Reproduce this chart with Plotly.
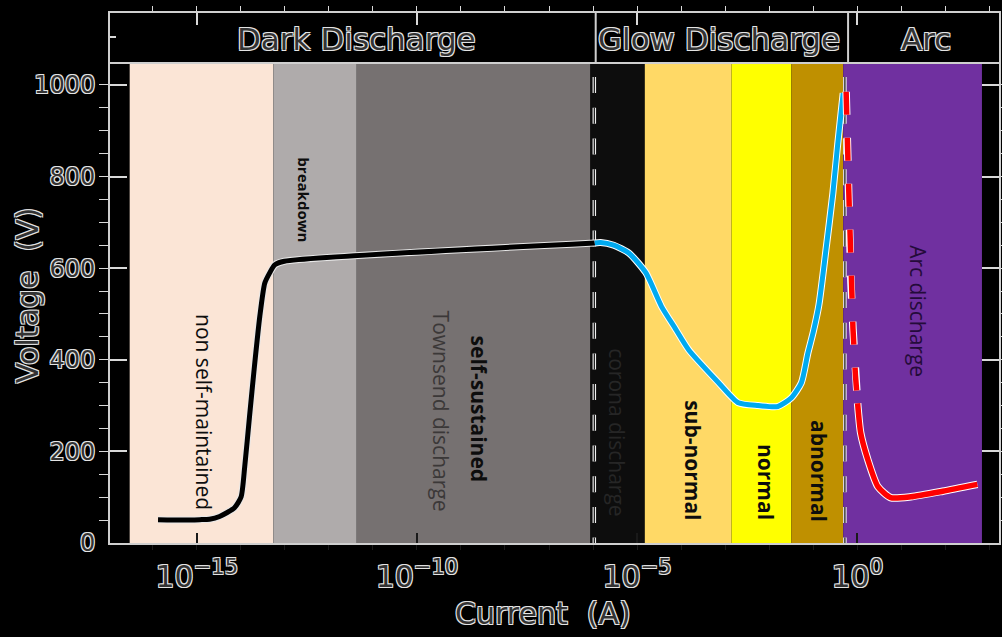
import numpy as np
import plotly.graph_objects as go

# ---------------------------------------------------------------------------
# Discharge regimes: band edges along the current axis (A) and their fills
# ---------------------------------------------------------------------------
band_edges = [3.0e-17, 5.5e-14, 4.3e-12, 8.7e-7, 1.5e-5, 1.4e-3, 3.2e-2, 0.48, 680.0]
band_colors = ["#fbe5d6", "#afabab", "#767171", "#0d0d0d",
               "#ffd966", "#ffff00", "#bf9000", "#7030a0"]

# dashed separators between dark / glow and glow / arc
separator_current = [1.07e-6, 0.525]

# ---------------------------------------------------------------------------
# Voltage-current characteristic
# ---------------------------------------------------------------------------
dark_current = [1.32e-16, 5.0e-16, 1.17e-15, 1.95e-15, 3.3e-15, 7.2e-15, 1.02e-14,
                1.23e-14, 1.58e-14, 2.04e-14, 2.7e-14, 3.5e-14, 4.5e-14, 5.9e-14,
                9.8e-14, 1.1e-6]
dark_voltage = [51, 50, 51, 52, 58, 77, 101, 167, 276, 385, 494, 567, 589, 607, 615, 655]

glow_current = [1.1e-6, 1.48e-6, 2.95e-6, 6.5e-6, 1.58e-5, 3.6e-5, 7.4e-5, 1.48e-4,
                7.1e-4, 2.0e-3, 5.6e-3, 1.58e-2, 3.2e-2, 5.4e-2, 7.6e-2, 0.10,
                0.135, 0.195, 0.28, 0.36, 0.48]
glow_voltage = [655, 656, 650, 633, 590, 516, 468, 422, 350, 306, 300, 298, 317, 350,
                415, 460, 520, 640, 764, 870, 982]

arc_jump_current = [0.56, 0.585, 0.64, 0.69, 0.72, 0.80, 0.91, 1.02]
arc_jump_voltage = [985, 878, 775, 672, 570, 469, 367, 305]

arc_current = [1.02, 1.2, 1.74, 2.95, 5.75, 16.6, 87.0, 537.0]
arc_voltage = [305, 240, 182, 123, 99, 101, 113, 128]

# ---------------------------------------------------------------------------
# Region labels
# ---------------------------------------------------------------------------
label_text = ["non self-maintained", "<b>breakdown</b>", "<b>self-sustained</b>",
              "Townsend discharge", "corona discharge", "<b>sub-normal</b>",
              "<b>normal</b>", "<b>abnormal</b>", "Arc discharge"]
label_current = [1.5e-15, 2.8e-13, 2.6e-9, 3.7e-10, 3.6e-6, 1.9e-4, 8.5e-3, 0.14, 24.0]
label_voltage = [287, 749, 293, 287, 243, 180, 133, 158, 506]
label_colors = ["#0d0d0d", "#0d0d0d", "#0d0d0d", "#3b3838", "#262626",
                "#0d0d0d", "#0d0d0d", "#0d0d0d", "#240b3a"]
label_sizes = [21, 15, 21, 21, 21, 21, 21, 21, 21]

header_text = ["Dark Discharge", "Glow Discharge", "Arc"]
header_current = [4.2e-12, 7.1e-4, 36.0]
header_edges = [1.15e-6, 0.62]

major_ticks = [1e-15, 1e-10, 1e-5, 1.0]
major_labels = ["10<sup>\u221215</sup>", "10<sup>\u221210</sup>",
                "10<sup>\u22125</sup>", "10<sup>0</sup>"]
decade_ticks = [10.0 ** k for k in range(-17, 4)]

# ---------------------------------------------------------------------------
HALO = "#e4e4e4"
OUTLINE = (f"1px 1px 0 {HALO}, -1px -1px 0 {HALO}, "
           f"1px -1px 0 {HALO}, -1px 1px 0 {HALO}")
FRAME = "#cfcfcf"


def outlined(size):
    return dict(family="DejaVu Sans", size=size, color="#333333", shadow=OUTLINE)


fig = go.Figure()


def stroke(x, y, color, width, dash=None, halo="#ffffff", shape="linear"):
    """Coloured line drawn over a slightly wider light halo."""
    for col, w in ((halo, width + 2), (color, width)):
        line = dict(color=col, width=w, shape=shape)
        if shape == "spline":
            line["smoothing"] = 0.6
        if dash:
            line["dash"] = dash
        fig.add_trace(go.Scatter(x=x, y=y, mode="lines", line=line,
                                 hoverinfo="skip" if col == halo else None))


stroke(dark_current, dark_voltage, "#000000", 5, halo="#e8e8e8", shape="spline")
stroke(glow_current, glow_voltage, "#00aaf0", 5, shape="spline")
stroke(arc_jump_current, arc_jump_voltage, "#ff0000", 5.5, dash="23px,23px")
stroke(arc_current, arc_voltage, "#ff0000", 5.5, shape="spline")

# header subplot carrier
fig.add_trace(go.Scatter(x=[None], y=[None], xaxis="x2", yaxis="y2",
                         mode="lines", hoverinfo="skip"))

shapes = []
for i, col in enumerate(band_colors):
    shapes.append(dict(type="rect", xref="x", yref="y domain",
                       x0=band_edges[i], x1=band_edges[i + 1], y0=0, y1=1,
                       fillcolor=col, line=dict(width=0), layer="below"))
for xc in separator_current:
    shapes.append(dict(type="line", xref="x", yref="y", x0=xc, x1=xc,
                       y0=1084, y1=0, layer="below",
                       line=dict(color="#f0f0f0", width=3.5, dash="16px,14.7px")))
    shapes.append(dict(type="line", xref="x", yref="y", x0=xc, x1=xc,
                       y0=1084, y1=0, layer="below",
                       line=dict(color="#111111", width=1.2, dash="16px,14.7px")))
for xc in header_edges:
    shapes.append(dict(type="line", xref="x2", yref="y2 domain", x0=xc, x1=xc,
                       y0=0, y1=1, line=dict(color=FRAME, width=2)))

annotations = []
for t, c, v, col, s in zip(label_text, label_current, label_voltage,
                           label_colors, label_sizes):
    annotations.append(dict(x=np.log10(c), y=v, xref="x", yref="y", text=t,
                            textangle=90, showarrow=False,
                            xanchor="center", yanchor="middle",
                            font=dict(family="Open Sans", size=s, color=col)))
for t, c in zip(header_text, header_current):
    annotations.append(dict(x=np.log10(c), y=0.47, xref="x2", yref="y2", text=t,
                            showarrow=False, xanchor="center", yanchor="middle",
                            font=outlined(31)))
annotations.append(dict(x=-0.092, y=0.468, xref="paper", yref="paper",
                        text="Voltage  (V)", textangle=-90, showarrow=False,
                        xanchor="center", yanchor="middle", font=outlined(30)))
annotations.append(dict(x=0.487, y=-0.133, xref="paper", yref="paper",
                        text="Current  (A)", showarrow=False,
                        xanchor="center", yanchor="middle", font=outlined(30)))

x_range = [-16.97, 3.22]
split = 0.9076

fig.update_layout(
    width=1002, height=637,
    margin=dict(l=110, r=1, t=13, b=93.5),
    paper_bgcolor="#000000", plot_bgcolor="#000000",
    showlegend=False,
    shapes=shapes, annotations=annotations,
    xaxis=dict(type="log", range=x_range, domain=[0, 1], anchor="y",
               showline=True, linecolor=FRAME, linewidth=2, mirror=False,
               showgrid=False, zeroline=False,
               ticks="inside", ticklen=10, tickwidth=1.5, tickcolor="#1a1a1a",
               tickmode="array", tickvals=major_ticks, ticktext=major_labels,
               tickfont=outlined(30), ticklabelstandoff=6,
               minor=dict(tickmode="array", tickvals=decade_ticks, ticklen=5,
                          tickwidth=1.2, tickcolor="#1a1a1a", showgrid=False)),
    yaxis=dict(range=[0, 1050], domain=[0, split], anchor="x",
               showline=True, linecolor=FRAME, linewidth=2, mirror="ticks",
               showgrid=False, zeroline=False,
               ticks="inside", ticklen=17, tickwidth=1.5, tickcolor="#d9d9d9",
               tickmode="linear", tick0=0, dtick=200,
               tickfont=outlined(24), ticklabelstandoff=8,
               minor=dict(dtick=50, ticklen=9, tickwidth=1.2, tickcolor="#d9d9d9",
                          showgrid=False)),
    xaxis2=dict(type="log", range=x_range, domain=[0, 1], anchor="y2", side="top",
                showline=True, linecolor=FRAME, linewidth=2, mirror=True,
                showgrid=False, zeroline=False, showticklabels=False,
                ticks="inside", ticklen=12, tickwidth=1.5, tickcolor="#d9d9d9",
                tickmode="array", tickvals=major_ticks,
                minor=dict(tickmode="array", tickvals=decade_ticks, ticklen=5,
                           tickwidth=1.2, tickcolor="#d9d9d9", showgrid=False)),
    yaxis2=dict(range=[0, 1], domain=[split, 1], anchor="x2",
                showline=True, linecolor=FRAME, linewidth=2, mirror=True,
                showgrid=False, zeroline=False, showticklabels=False,
                ticks="inside", ticklen=6, tickwidth=1.5, tickcolor="#d9d9d9",
                tickmode="array", tickvals=[0.5]),
)

fig.write_html("out.html")
